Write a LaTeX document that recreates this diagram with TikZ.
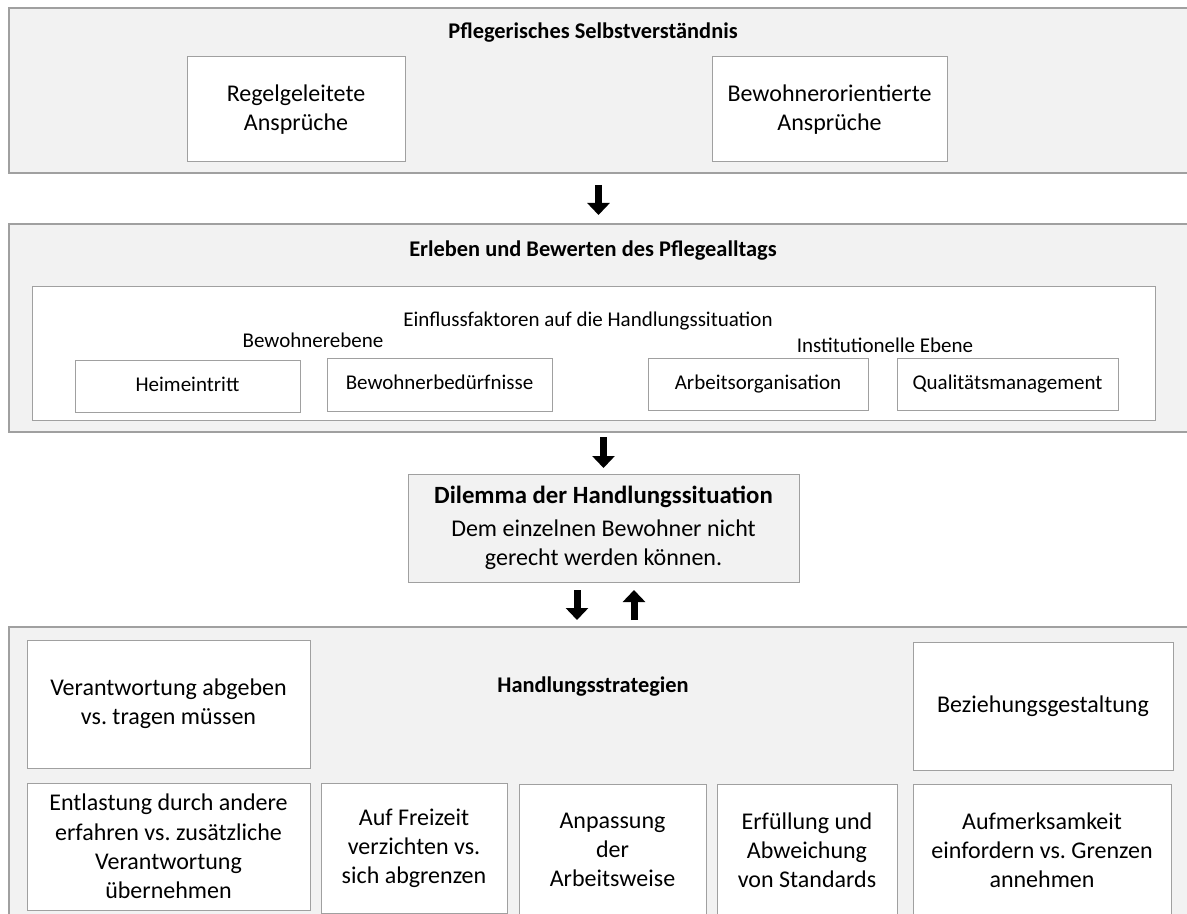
\documentclass[tikz,border=0pt]{standalone}
\usepackage{fontspec}
\setmainfont{Carlito}
\usepackage{xcolor}
\usepackage{tikz}
\usetikzlibrary{arrows.meta,positioning,calc}

\definecolor{panelgray}{HTML}{F2F2F2}
\definecolor{linegray}{HTML}{A0A0A0}

\begin{document}
\frenchspacing
\begin{tikzpicture}[
    x=0.5pt, y=-0.5pt,
    panel/.style={rectangle, draw=linegray, fill=panelgray, line width=0.6pt, inner sep=0pt, outer sep=0pt, minimum width=589.5pt},
    box/.style={rectangle, draw=linegray, fill=white, line width=0.5pt, inner sep=0pt, outer sep=0pt, align=center, font=\fontsize{12}{14.6}\selectfont},
    smallbox/.style={box, font=\fontsize{10.5}{12.8}\selectfont, text height=7.5pt, text depth=2.5pt},
    heading/.style={font=\bfseries\fontsize{11.2}{13.6}\selectfont},
    smalltext/.style={font=\fontsize{10.5}{12.8}\selectfont, text height=7.5pt, text depth=2.5pt},
    blockarrow/.style={-{Triangle[width=11pt,length=6pt]}, line width=3.5pt}
]
    \useasboundingbox (0,0) rectangle (1187,914);

    % Panels
    \node[panel, minimum height=82.5pt] (selbst) at (598.5,90.5) {};
    \node[panel, minimum height=104pt] (erleben) at (598.5,328) {};
    \node[panel, minimum height=146.5pt] (strat) at (598.5,773.5) {};

    % Pflegerisches Selbstverstaendnis
    \node[heading] (selbsttitle) at (593,33) {Pflegerisches Selbstverständnis};
    \node[box, minimum width=109pt, minimum height=52.5pt] (regel) at (296,109.5) {Regelgeleitete\\Ansprüche};
    \node[box, minimum width=117.5pt, minimum height=52.5pt] (bewohner) at (829.5,109.5) {Bewohnerorientierte\\Ansprüche};

    % Erleben und Bewerten
    \node[heading] (erlebentitle) at (593,251) {Erleben und Bewerten des Pflegealltags};
    \node[box, minimum width=561.5pt, minimum height=66.5pt] (einfluss) at (593.5,353.5) {};
    \node[smalltext] (einflusstitle) at (588,322) {Einflussfaktoren auf die Handlungssituation};
    \node[smalltext] (bewebene) at (313,343) {Bewohnerebene};
    \node[smalltext] (instebene) at (885,347) {Institutionelle Ebene};
    \node[smallbox, minimum width=112.5pt, minimum height=26pt] (heim) at (187.5,386) {Heimeintritt};
    \node[smallbox, minimum width=112.5pt, minimum height=26.5pt] (bedarf) at (439.5,384.5) {Bewohnerbedürfnisse};
    \node[smallbox, minimum width=110pt, minimum height=26pt] (arbeit) at (758,384) {Arbeitsorganisation};
    \node[smallbox, minimum width=110.5pt, minimum height=26pt] (quali) at (1007.5,384) {Qualitätsmanagement};

    % Dilemma
    \node[box, fill=panelgray, minimum width=195.5pt, minimum height=54pt] (dilemma) at (603.5,528)
        {{\bfseries\fontsize{12.4}{14.6}\selectfont Dilemma der Handlungssituation}\\[2pt]Dem einzelnen Bewohner nicht\\gerecht werden können.};

    % Handlungsstrategien
    \node[heading] (strattitle) at (593,687) {Handlungsstrategien};
    \node[box, minimum width=141.5pt, minimum height=64pt] (verantwortung) at (168.5,704) {Verantwortung abgeben\\vs. tragen müssen};
    \node[box, minimum width=130pt, minimum height=64pt] (beziehung) at (1043,706) {Beziehungsgestaltung};
    \node[box, minimum width=141.5pt, minimum height=63.5pt] (entlastung) at (168.5,846.5) {Entlastung durch andere\\erfahren vs. zusätzliche\\Verantwortung\\übernehmen};
    \node[box, minimum width=93pt, minimum height=65pt] (freizeit) at (414,848) {Auf Freizeit\\verzichten vs.\\sich abgrenzen};
    \node[box, minimum width=93.5pt, minimum height=66pt] (anpassung) at (612.5,850) {Anpassung\\der\\Arbeitsweise};
    \node[box, minimum width=90pt, minimum height=66pt] (standards) at (807,850) {Erfüllung und\\Abweichung\\von Standards};
    \node[box, minimum width=129pt, minimum height=66pt] (aufmerksam) at (1042,850) {Aufmerksamkeit\\einfordern vs. Grenzen\\annehmen};

    % Arrows
    \draw[blockarrow, shorten <=6pt, shorten >=4.5pt] (selbst.south) -- (erleben.north);
    \draw[blockarrow, shorten <=2.5pt, shorten >=3pt] (dilemma.north |- erleben.south) -- (dilemma.north);
    \draw[blockarrow, shorten <=4pt, shorten >=3.5pt] ([xshift=-13.25pt]dilemma.south) -- ([xshift=-13.25pt]dilemma.south |- strat.north);
    \draw[blockarrow, shorten <=3.5pt, shorten >=4pt] ([xshift=15.25pt]dilemma.south |- strat.north) -- ([xshift=15.25pt]dilemma.south);
\end{tikzpicture}
\end{document}
